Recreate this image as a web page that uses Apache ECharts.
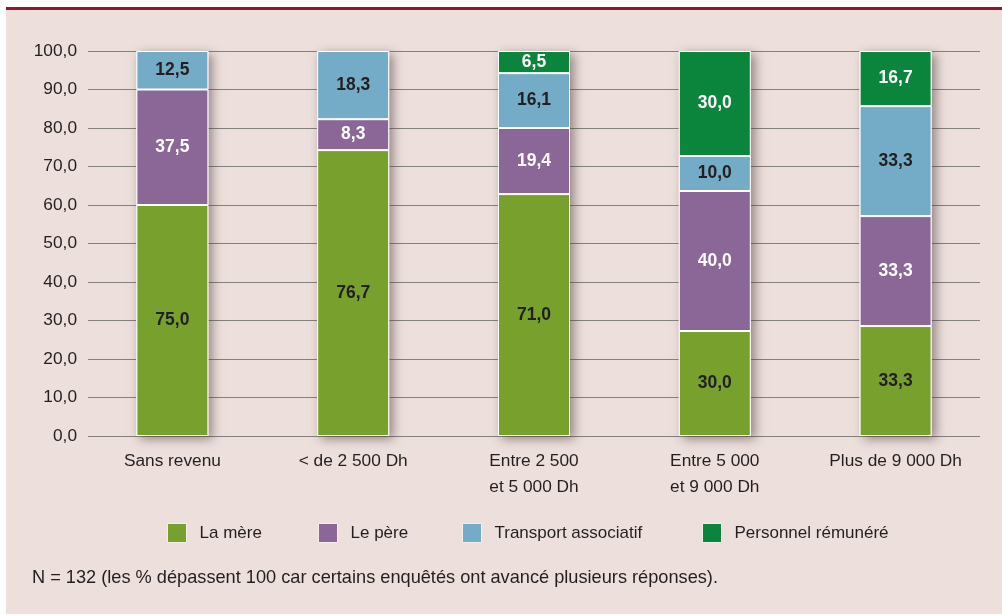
<!DOCTYPE html>
<html>
<head>
<meta charset="utf-8">
<script src="https://cdn.jsdelivr.net/npm/echarts@6/dist/echarts.min.js"></script>
<style>
  html, body { margin: 0; padding: 0; background: #fff; }
  #main { width: 1002px; height: 615px; }
</style>
</head>
<body>
<div id="main"></div>
<script>
// raw values (they add up to more than 100 per bar)
var categories = ['Sans revenu', '< de 2 500 Dh', 'Entre 2 500\net 5 000 Dh', 'Entre 5 000\net 9 000 Dh', 'Plus de 9 000 Dh']
var mere = [75.0, 76.7, 71.0, 30.0, 33.3]
var pere = [37.5, 8.3, 19.4, 40.0, 33.3]
var transport = [12.5, 18.3, 16.1, 10.0, 33.3]
var personnel = [null, null, 6.5, 30.0, 16.7]
var yTicks = [0, 10, 20, 30, 40, 50, 60, 70, 80, 90, 100]

var FONT = '"Liberation Sans", Arial, sans-serif'
var TXT = '#231f20'

var raw = [mere, pere, transport, personnel]
var totals = categories.map(function(c, i) {
  var s = 0
  raw.forEach(function(arr) { s += arr[i] || 0 })
  return s
})
// bars are drawn rescaled to 100 %, labels keep the raw figure
function scaled(arr) {
  return arr.map(function(v, i) {
    if (v === null) return null
    return { value: v / totals[i] * 100, raw: v }
  })
}
function fmt(v) {
  return v.toFixed(1).replace('.', ',')
}

var seriesDef = [
  { name: 'La mère', data: mere, color: '#77a02d', text: TXT },
  { name: 'Le père', data: pere, color: '#8a6797', text: '#ffffff' },
  { name: 'Transport associatif', data: transport, color: '#74abc6', text: TXT },
  { name: 'Personnel rémunéré', data: personnel, color: '#0b853c', text: '#ffffff' }
]
var legendLeft = [167, 318, 462, 702]

var series = [{
  // shadow under the whole stacked column
  name: 'ombre',
  type: 'bar',
  xAxisIndex: 0,
  yAxisIndex: 0,
  barWidth: 72,
  barGap: '-100%',
  silent: true,
  z: 1,
  data: categories.map(function() { return 100 }),
  itemStyle: {
    color: '#ffffff',
    shadowBlur: 10,
    shadowOffsetX: 4,
    shadowOffsetY: 3,
    shadowColor: 'rgba(60,40,40,0.5)'
  }
}]
seriesDef.forEach(function(s) {
  series.push({
    name: s.name,
    type: 'bar',
    stack: 'total',
    xAxisIndex: 0,
    yAxisIndex: 0,
    barWidth: 72,
    z: 3,
    data: scaled(s.data),
    itemStyle: {
      color: s.color,
      borderColor: '#ffffff',
      borderWidth: 1
    },
    label: {
      show: true,
      position: 'inside',
      color: s.text,
      fontFamily: FONT,
      fontWeight: 'bold',
      fontSize: 17.5,
      formatter: function(p) { return fmt(p.data.raw) }
    }
  })
})

var legends = seriesDef.map(function(s, i) {
  return {
    data: [s.name],
    left: legendLeft[i],
    top: 523,
    padding: 0,
    icon: 'rect',
    itemWidth: 19,
    itemHeight: 19,
    selectedMode: false,
    itemStyle: { borderColor: '#f6eeee', borderWidth: 1 },
    textStyle: { fontFamily: FONT, fontSize: 17, color: TXT, padding: [0, 0, 0, 8] }
  }
})

var myChart = echarts.init(document.getElementById('main'))
var option = {
  animation: false,
  textStyle: { fontFamily: FONT },
  graphic: [
    { type: 'rect', z: -10, shape: { x: 6, y: 7, width: 996, height: 607 }, style: { fill: '#ecdfdc' } },
    { type: 'rect', z: -9, shape: { x: 6, y: 7, width: 996, height: 3 }, style: { fill: '#8b1a2e' } },
    {
      type: 'text', left: 32, top: 569,
      style: {
        text: 'N = 132 (les % dépassent 100 car certains enquêtés ont avancé plusieurs réponses).',
        font: '18.2px ' + FONT, fill: TXT
      }
    }
  ],
  legend: legends,
  grid: [
    { left: 82, right: 16, top: 51, bottom: 179 },
    { left: 88, right: 22, top: 51, bottom: 179 }
  ],
  xAxis: [
    {
      type: 'category',
      gridIndex: 0,
      data: categories,
      axisLine: { show: false },
      axisTick: { show: false },
      axisLabel: {
        color: TXT, fontFamily: FONT, fontSize: 17.3, margin: 12, lineHeight: 26,
        interval: 0
      }
    },
    {
      type: 'category',
      gridIndex: 1,
      data: categories,
      show: false
    }
  ],
  yAxis: [
    {
      type: 'value',
      gridIndex: 0,
      min: 0,
      max: 100,
      show: false,
      splitLine: { show: false }
    },
    {
      type: 'value',
      gridIndex: 1,
      min: yTicks[0],
      max: yTicks[yTicks.length - 1],
      interval: 10,
      axisLine: { show: false },
      axisTick: { show: false },
      axisLabel: {
        color: TXT, fontFamily: FONT, fontSize: 17.3, margin: 11,
        formatter: function(v) { return fmt(v) }
      },
      splitLine: { lineStyle: { color: '#858080', width: 1.2 } }
    }
  ],
  series: series
}
myChart.setOption(option)
</script>
</body>
</html>
